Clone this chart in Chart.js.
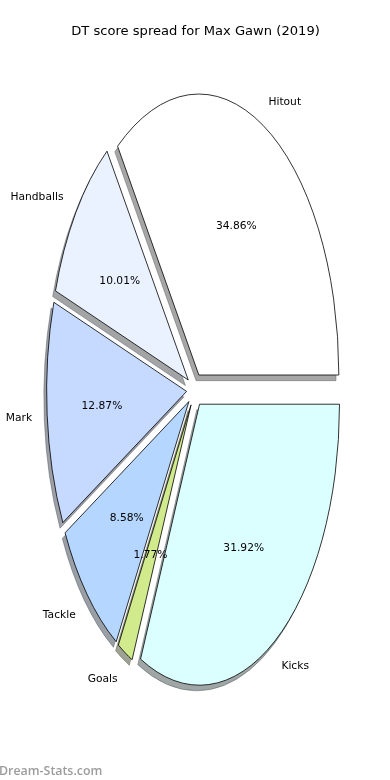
<!DOCTYPE html>
<html>
<head>
<meta charset="utf-8">
<script src="https://cdn.jsdelivr.net/npm/chart.js@4/dist/chart.umd.min.js"></script>
<style>
  html, body { margin: 0; padding: 0; background: #ffffff; }
  canvas { display: block; }
</style>
</head>
<body>
<canvas id="c" width="390" height="780"></canvas>
<script>
// ---- data (matplotlib order: counter-clockwise from 3 o'clock) ----
const categories = ['Hitout', 'Handballs', 'Mark', 'Tackle', 'Goals', 'Kicks'];
const values = [34.86, 10.01, 12.87, 8.58, 1.77, 31.92];
const colors = ['#ffffff', '#eaf2ff', '#c6daff', '#b5d6ff', '#d0ea8c', '#dbffff'];
const titleText = 'DT score spread for Max Gawn (2019)';
const watermarkText = 'Dream-Stats.com';

// ---- style / geometry ----
const RADIUS = 140;        // horizontal radius in px
const STRETCH = 2.007;     // vertical / horizontal ratio (non-equal axes)
const EXPLODE = 0.06;      // fraction of radius
const SHADOW = 0.02;       // fraction of radius
const LABEL_DIST = 1.1;
const PCT_DIST = 0.6;
const BORDER = 0.8;
const TEXT_DY = 1.5;       // matplotlib 'center' alignment sits slightly lower
const TEXT_DX = -1;
const FONT = '"DejaVu Sans", "Liberation Sans", sans-serif';

// Chart.js goes clockwise, matplotlib counter-clockwise -> reverse order
const cwLabels = categories.slice().reverse();
const cwValues = values.slice().reverse();
const cwColors = colors.slice().reverse();
const total = values.reduce((a, b) => a + b, 0);

function shadowColor(hex) {
  const h = hex.replace('#', '');
  const r = parseInt(h.slice(0, 2), 16), g = parseInt(h.slice(2, 4), 16), b = parseInt(h.slice(4, 6), 16);
  return 'rgba(' + Math.round(r * 0.3) + ',' + Math.round(g * 0.3) + ',' + Math.round(b * 0.3) + ',0.5)';
}

function geom(arc) {
  const p = arc.getProps(['x', 'y', 'startAngle', 'endAngle', 'outerRadius'], true);
  p.mid = (p.startAngle + p.endAngle) / 2;
  return p;
}

const ellipsePie = {
  id: 'ellipsePie',
  beforeDatasetsDraw(chart) {
    const ctx = chart.ctx;
    const arcs = chart.getDatasetMeta(0).data;
    if (!arcs.length) return false;
    const dpr = chart.currentDevicePixelRatio || 1;
    const cx = arcs[0].x, cy = arcs[0].y;
    ctx.save();
    ctx.translate(cx, cy);
    ctx.scale(1, STRETCH);
    ctx.translate(-cx, -cy);

    // shadows
    arcs.forEach((arc) => {
      const g = geom(arc);
      const e = EXPLODE * g.outerRadius;
      const sx = g.x + Math.cos(g.mid) * e - SHADOW * g.outerRadius;
      const sy = g.y + Math.sin(g.mid) * e + SHADOW * g.outerRadius;
      const col = shadowColor(arc.options.backgroundColor);
      ctx.beginPath();
      ctx.moveTo(sx, sy);
      ctx.arc(sx, sy, g.outerRadius, g.startAngle, g.endAngle);
      ctx.closePath();
      ctx.fillStyle = col;
      ctx.fill();
      ctx.save();
      ctx.setTransform(dpr, 0, 0, dpr, 0, 0);
      ctx.lineWidth = BORDER;
      ctx.strokeStyle = col;
      ctx.lineJoin = 'miter';
      ctx.stroke();
      ctx.restore();
    });

    // wedges: strokes are done in device space so line width stays uniform
    const nativeStroke = CanvasRenderingContext2D.prototype.stroke;
    ctx.stroke = function () {
      this.save();
      this.setTransform(dpr, 0, 0, dpr, 0, 0);
      nativeStroke.apply(this, arguments);
      this.restore();
    };
    arcs.forEach((arc) => {
      const g = geom(arc);
      const e = EXPLODE * g.outerRadius;
      ctx.save();
      ctx.translate(Math.cos(g.mid) * e, Math.sin(g.mid) * e);
      arc.draw(ctx, chart.chartArea);
      ctx.restore();
    });
    delete ctx.stroke;
    ctx.restore();
    return false;
  },
  afterDraw(chart) {
    const ctx = chart.ctx;
    const arcs = chart.getDatasetMeta(0).data;
    ctx.save();
    ctx.fillStyle = '#000000';
    ctx.textBaseline = 'middle';
    arcs.forEach((arc, i) => {
      const g = geom(arc);
      const r = g.outerRadius;
      const e = EXPLODE * r;
      const c = Math.cos(g.mid), s = Math.sin(g.mid);
      // category label
      const lx = g.x + c * (e + LABEL_DIST * r) + TEXT_DX;
      const ly = g.y + s * (e + LABEL_DIST * r) * STRETCH + TEXT_DY;
      ctx.font = '10.7px ' + FONT;
      ctx.textAlign = c > 0 ? 'left' : 'right';
      ctx.fillText(chart.data.labels[i], lx, ly);
      // percentage
      const px = g.x + c * (e + PCT_DIST * r) + TEXT_DX;
      const py = g.y + s * (e + PCT_DIST * r) * STRETCH + TEXT_DY;
      const v = chart.data.datasets[0].data[i];
      ctx.textAlign = 'center';
      ctx.fillText((v / total * 100).toFixed(2) + '%', px, py);
    });

    // title
    ctx.fillStyle = '#000000';
    ctx.textAlign = 'center';
    ctx.textBaseline = 'middle';
    ctx.font = '13.1px ' + FONT;
    ctx.fillText(titleText, 195.5, 31.5);
    // watermark
    ctx.fillStyle = '#9c9c9c';
    ctx.textAlign = 'left';
    ctx.textBaseline = 'alphabetic';
    ctx.font = '600 12.4px "Open Sans", sans-serif';
    ctx.fillText(watermarkText, -1, 775);
    ctx.restore();
  }
};

new Chart(document.getElementById('c'), {
  type: 'pie',
  data: {
    labels: cwLabels,
    datasets: [{
      data: cwValues,
      backgroundColor: cwColors,
      borderColor: '#000000',
      borderWidth: BORDER,
      borderJoinStyle: 'miter',
      hoverOffset: 0
    }]
  },
  options: {
    responsive: false,
    animation: false,
    events: [],
    rotation: 90,
    radius: RADIUS,
    layout: { padding: 0 },
    plugins: {
      legend: { display: false },
      title: { display: false },
      tooltip: { enabled: false }
    }
  },
  plugins: [ellipsePie]
});
</script>
</body>
</html>
